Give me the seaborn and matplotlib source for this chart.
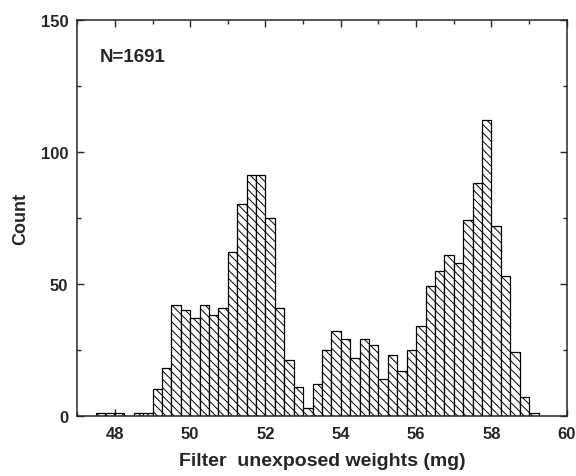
import matplotlib

matplotlib.use("Agg")

import matplotlib.pyplot as plt
from matplotlib.ticker import MultipleLocator
import numpy as np
import pandas as pd
import seaborn as sns

# histogram of filter weights, 0.25 mg bins starting at 47.5 mg
BIN_START = 47.5
BIN_WIDTH = 0.25
counts = [
    1, 1, 1, 0, 1, 1,                          # 47.50 - 48.75
    10, 18, 42, 40, 37, 42, 38, 41,            # 49.00 - 50.75
    62, 80, 91, 91, 75, 41, 21, 11,            # 51.00 - 52.75
    3, 12, 25, 32, 29, 22, 29, 27,             # 53.00 - 54.75
    14, 23, 17, 25, 34, 49, 55, 61,            # 55.00 - 56.75
    58, 74, 88, 112, 72, 53, 24, 7,            # 57.00 - 58.75
    1,                                         # 59.00
]
x_ticks = [48, 50, 52, 54, 56, 58, 60]
y_ticks = [0, 50, 100, 150]
n_label = "N=1691"

edges = BIN_START + BIN_WIDTH * np.arange(len(counts) + 1)
df = pd.DataFrame({"weight": edges[:-1] + BIN_WIDTH / 2, "count": counts})

sns.set_style("ticks")
plt.rcParams["font.family"] = ["Liberation Sans", "DejaVu Sans"]
plt.rcParams["font.weight"] = "bold"
plt.rcParams["hatch.linewidth"] = 0.7

fig = plt.figure(figsize=(5.76, 4.77), dpi=100)
ax = fig.add_axes([0.134, 0.126, 0.850, 0.831])

sns.histplot(
    data=df,
    x="weight",
    weights="count",
    bins=edges.tolist(),
    stat="count",
    facecolor="white",
    edgecolor="black",
    linewidth=0.9,
    hatch="\\\\\\\\",
    alpha=1,
    ax=ax,
)

ax.set_xlim(47, 60)
ax.set_ylim(0, 150)
ax.set_xticks(x_ticks)
ax.set_yticks(y_ticks)
ax.xaxis.set_minor_locator(MultipleLocator(1))
ax.yaxis.set_minor_locator(MultipleLocator(25))
ax.tick_params(which="both", direction="in", top=True, right=True, width=1)
ax.tick_params(which="major", length=5, labelsize=12)
ax.tick_params(axis="x", which="major", pad=7)
ax.tick_params(axis="y", which="major", pad=6.5)
ax.tick_params(which="minor", length=3)
for label in ax.get_xticklabels() + ax.get_yticklabels():
    label.set_fontweight("bold")
for spine in ax.spines.values():
    spine.set_visible(True)
    spine.set_linewidth(1.1)

ax.set_xlabel("Filter  unexposed weights (mg)", fontsize=14, fontweight="bold", labelpad=8)
ax.set_ylabel("Count", fontsize=13, fontweight="bold", labelpad=8)
ax.text(0.046, 0.906, n_label, transform=ax.transAxes, fontsize=13.5, fontweight="bold",
        ha="left", va="center")

fig.savefig("out.png", dpi=100)
plt.close(fig)
